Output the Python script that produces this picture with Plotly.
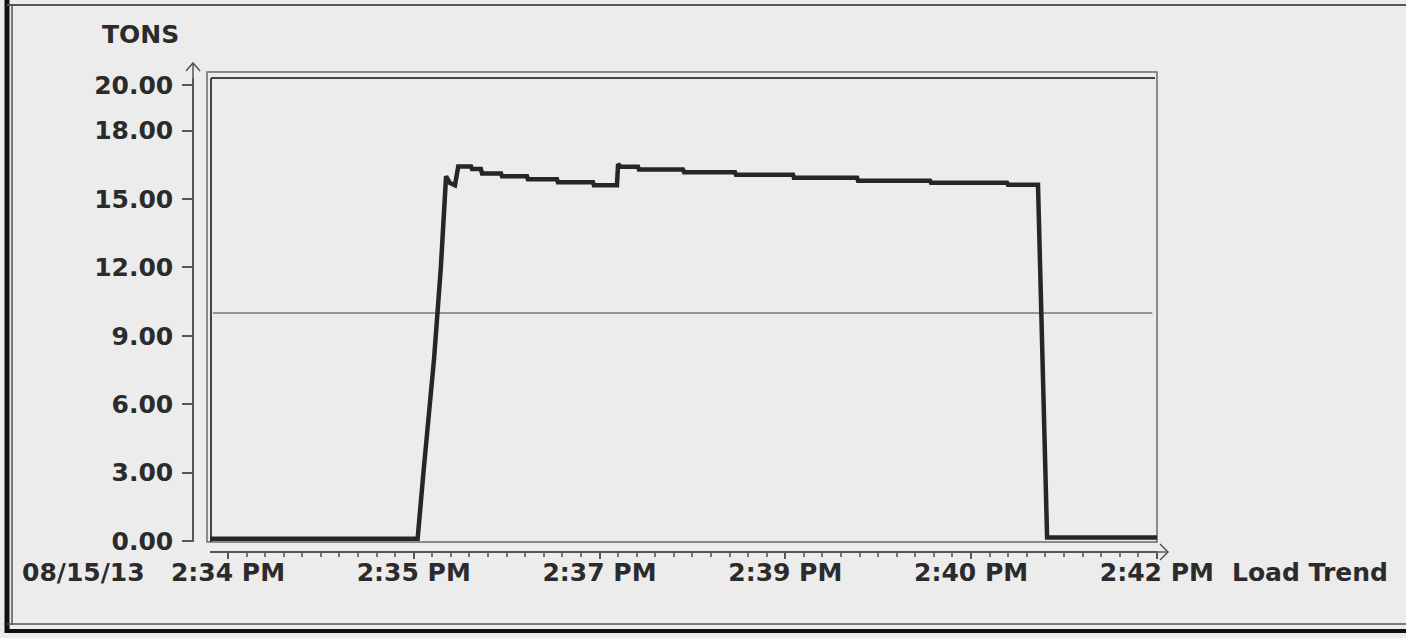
import plotly.graph_objects as go

# ---- data (seconds after 2:34 PM, tons) ----
time_s = [-9.3, 98, 101, 106.5, 110, 112.7, 114.7, 117.3, 119, 125.6, 126.1, 130.7, 131.3,
          141.1, 141.6, 154.5, 155, 170, 170.5, 188.6, 189.1, 201, 201.6, 203.1, 211.9, 212.4,
          235.1, 235.7, 262, 262.5, 292, 292.5, 325.1, 325.6, 362.8, 363.3, 402.6, 403.1,
          418.6, 423.3, 480.1]
tons = [0.1, 0.1, 3.0, 8.0, 12.0, 16.0, 15.7, 15.6, 16.43, 16.43, 16.32, 16.32, 16.12,
        16.12, 16.0, 16.0, 15.87, 15.87, 15.74, 15.74, 15.61, 15.61, 16.53, 16.42, 16.42, 16.30,
        16.30, 16.18, 16.18, 16.07, 16.07, 15.93, 15.93, 15.80, 15.80, 15.71, 15.71, 15.63,
        15.63, 0.15, 0.15]
threshold = 10.0
x_tickvals = [0, 96, 192, 288, 384, 480]
x_ticktext = ["2:34 PM", "2:35 PM", "2:37 PM", "2:39 PM", "2:40 PM", "2:42 PM"]
y_tickvals = [0, 3, 6, 9, 12, 15, 18, 20]
y_ticktext = ["0.00", "3.00", "6.00", "9.00", "12.00", "15.00", "18.00", "20.00"]
date_label = "08/15/13"
y_title = "TONS"
chart_name = "Load Trend"

# ---- layout helpers (pixel -> paper) ----
W, H = 1406, 638
ML, MR, MT, MB = 193, 249, 40, 86
PW, PH = W - ML - MR, H - MT - MB
def px(x): return (x - ML) / PW
def py(y): return (H - MB - y) / PH

TXT = "#2b2b2b"
FONT = dict(family="DejaVu Sans", size=25, color=TXT, weight="bold")
BG = "#ececec"

fig = go.Figure()
fig.add_trace(go.Scatter(x=time_s, y=tons, mode="lines",
                         line=dict(color="#262626", width=4.5), hoverinfo="skip"))

fig.update_layout(
    width=W, height=H, margin=dict(l=ML, r=MR, t=MT, b=MB),
    paper_bgcolor=BG, plot_bgcolor=BG, showlegend=False, font=FONT,
    xaxis=dict(domain=[px(210), 1], range=[-9.3, 480.1], anchor="free", position=0,
               showline=True, linecolor="#555", linewidth=1.5, showgrid=False, zeroline=False,
               tickmode="array", tickvals=x_tickvals, ticktext=x_ticktext,
               ticks="outside", ticklen=6, tickcolor="#555", tickwidth=1.5,
               ticklabelstandoff=-8,
               minor=dict(tick0=0, dtick=9.6, ticks="outside", ticklen=4, tickcolor="#777"),
               tickfont=FONT),
    yaxis=dict(domain=[py(542), py(78)], range=[-0.044, 20.31], anchor="free", position=0,
               showline=True, linecolor="#555", linewidth=1.5, showgrid=False, zeroline=False,
               tickmode="array", tickvals=y_tickvals, ticktext=y_ticktext,
               ticks="outside", ticklen=10, tickcolor="#555", tickwidth=1.5,
               ticklabelstandoff=4, tickfont=FONT),
)

shapes = [
    # threshold line
    dict(type="line", xref="x domain", yref="y", x0=0.003, x1=0.995, y0=threshold, y1=threshold,
         line=dict(color="#7a7a7a", width=1.5), layer="below"),
    # chart box
    dict(type="rect", xref="paper", yref="paper", x0=px(207), x1=px(1157), y0=py(542), y1=py(72),
         line=dict(color="#6a6a6a", width=1.5), layer="below"),
    dict(type="line", xref="paper", yref="paper", x0=px(211), x1=px(1155), y0=py(78), y1=py(78),
         line=dict(color="#444", width=2), layer="below"),
    dict(type="line", xref="paper", yref="paper", x0=px(211), x1=px(211), y0=py(78), y1=py(542),
         line=dict(color="#444", width=2), layer="below"),
    # x-axis arrow
    dict(type="line", xref="paper", yref="paper", x0=px(1157), x1=px(1168), y0=py(552), y1=py(552),
         line=dict(color="#555", width=1.5)),
    dict(type="path", xref="paper", yref="paper",
         path=f"M {px(1160)} {py(544)} L {px(1168)} {py(552)} L {px(1160)} {py(560)}",
         line=dict(color="#555", width=1.5)),
    # y-axis arrow
    dict(type="line", xref="paper", yref="paper", x0=px(193), x1=px(193), y0=py(78), y1=py(63),
         line=dict(color="#555", width=1.5)),
    dict(type="path", xref="paper", yref="paper",
         path=f"M {px(186)} {py(71)} L {px(193)} {py(63)} L {px(200)} {py(71)}",
         line=dict(color="#555", width=1.5)),
    # outer frame (screen border)
    dict(type="line", xref="paper", yref="paper", x0=px(7), x1=px(7), y0=py(0), y1=py(633),
         line=dict(color="#111", width=5)),
    dict(type="line", xref="paper", yref="paper", x0=px(12), x1=px(12), y0=py(5), y1=py(625),
         line=dict(color="#555", width=1.5)),
    dict(type="line", xref="paper", yref="paper", x0=px(7), x1=px(1406), y0=py(5), y1=py(5),
         line=dict(color="#555", width=2)),
    dict(type="line", xref="paper", yref="paper", x0=px(7), x1=px(1406), y0=py(624), y1=py(624),
         line=dict(color="#555", width=1.5)),
    dict(type="line", xref="paper", yref="paper", x0=px(7), x1=px(1406), y0=py(631), y1=py(631),
         line=dict(color="#111", width=4)),
]
fig.update_layout(shapes=shapes)

for text, x, y in [(y_title, 140, 34), (date_label, 83, 572), (chart_name, 1310, 572)]:
    fig.add_annotation(text=text, xref="paper", yref="paper", x=px(x), y=py(y),
                       xanchor="center", yanchor="middle", showarrow=False, font=FONT)

fig.write_html("out.html", config={"displayModeBar": False},
               post_script="document.body.style.margin='0';document.body.style.overflow='hidden';")
